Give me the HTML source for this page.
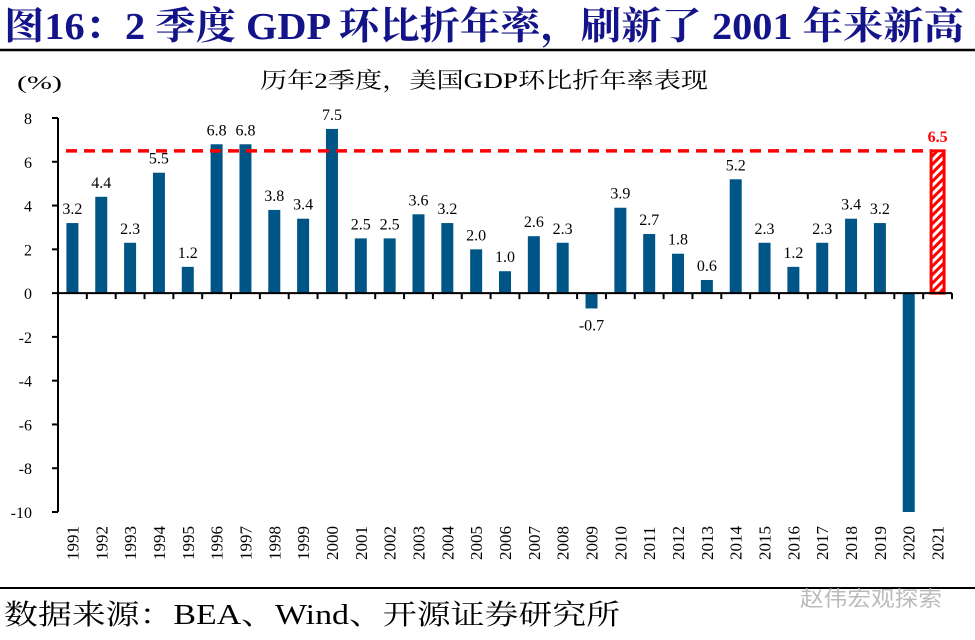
<!DOCTYPE html>
<html><head><meta charset="utf-8"><style>
body{margin:0;background:#fff;width:975px;height:640px;overflow:hidden;font-family:"Liberation Serif","Noto Serif CJK SC",serif;}
</style></head><body>
<svg width="975" height="640" style="position:absolute;left:0;top:0">
<text x="4" y="39" font-size="38" font-weight="bold" fill="#14148a" textLength="960" lengthAdjust="spacingAndGlyphs">图16：2 季度 GDP 环比折年率，刷新了 2001 年来新高</text>
<line x1="0" y1="50" x2="975" y2="50" stroke="#000" stroke-width="2.5"/>
<text x="17" y="89" font-size="19" textLength="45" lengthAdjust="spacingAndGlyphs">(%)</text>
<text x="260" y="88" font-size="22" textLength="448" lengthAdjust="spacingAndGlyphs">历年2季度，美国GDP环比折年率表现</text>
<g id="plot"></g>
<line x1="0" y1="588" x2="975" y2="588" stroke="#000" stroke-width="2"/>
<text x="4" y="624" font-size="28" textLength="616" lengthAdjust="spacingAndGlyphs">数据来源：BEA、Wind、开源证券研究所</text>
<text x="800" y="606" font-size="21" fill="#bbb" textLength="142" lengthAdjust="spacingAndGlyphs" font-family="Liberation Sans,Noto Sans CJK SC,sans-serif">赵伟宏观探索</text>
</svg>
<script>
const years=["1991","1992","1993","1994","1995","1996","1997","1998","1999","2000","2001","2002","2003","2004","2005","2006","2007","2008","2009","2010","2011","2012","2013","2014","2015","2016","2017","2018","2019","2020","2021"];
const values=[3.2,4.4,2.3,5.5,1.2,6.8,6.8,3.8,3.4,7.5,2.5,2.5,3.6,3.2,2.0,1.0,2.6,2.3,-0.7,3.9,2.7,1.8,0.6,5.2,2.3,1.2,2.3,3.4,3.2,-10,6.5];
const labels=["3.2","4.4","2.3","5.5","1.2","6.8","6.8","3.8","3.4","7.5","2.5","2.5","3.6","3.2","2.0","1.0","2.6","2.3","-0.7","3.9","2.7","1.8","0.6","5.2","2.3","1.2","2.3","3.4","3.2","","6.5"];
const yTicks=[8,6,4,2,0,-2,-4,-6,-8,-10];
const NS="http://www.w3.org/2000/svg";
const g=document.getElementById('plot');
const x0=58,x1=952,yMin=-10,yMax=8,yTop=118,yBot=512;
const band=(x1-x0)/years.length;
const y=v=>yTop+(yMax-v)/(yMax-yMin)*(yBot-yTop);
const xc=i=>x0+band*(i+0.5);
function mk(t,a){const e=document.createElementNS(NS,t);for(const k in a)e.setAttribute(k,a[k]);g.appendChild(e);return e;}
const defs=mk('defs',{});
defs.innerHTML='<pattern id="hatch" width="6" height="6" patternUnits="userSpaceOnUse" patternTransform="rotate(-45)"><rect width="6" height="6" fill="#fff"/><rect width="6" height="3" fill="#f00"/></pattern>';
yTicks.forEach(t=>{
 const l=mk('line',{x1:x0-6,x2:x0,y1:y(t),y2:y(t),stroke:'#000','stroke-width':2});
 
 
 const tx=mk('text',{x:x0-26,y:y(t)+6,'font-size':16,'text-anchor':'end'});
 tx.textContent=t;
 
 
});
const ya=mk('line',{x1:x0,x2:x0,y1:yTop,y2:yBot,stroke:'#000','stroke-width':2});


years.forEach((yr,i)=>{
 const v=values[i],last=i===years.length-1;
 const w=last?13:12;
 const r=mk('rect',{x:xc(i)-w/2,y:Math.min(y(v),y(0)),width:w,height:Math.abs(y(v)-y(0)),fill:last?'url(#hatch)':'#005587',stroke:last?'#f00':'none','stroke-width':last?3:0});
 
 
 if(labels[i]){
  const ly=v>=0?y(v)-9:y(v)+22;
  const t=mk('text',{x:xc(i),y:ly,'font-size':16,'text-anchor':'middle',fill:last?'#f00':'#000','font-weight':last?'bold':'normal'});
  t.textContent=labels[i];
  
  
 }
 const xt=mk('text',{'font-size':17,transform:`translate(${xc(i)+6},560) rotate(-90)`});
 xt.textContent=yr;
 
 
});
for(let i=0;i<=years.length;i++){
 const tk=mk('line',{x1:x0+band*i,x2:x0+band*i,y1:y(0),y2:y(0)+6,stroke:'#000','stroke-width':2});
 
 
}
const xa=mk('line',{x1:x0,x2:x1,y1:y(0),y2:y(0),stroke:'#000','stroke-width':2});


const ref=values[values.length-1];
const dl=mk('line',{x1:x0+8,x2:xc(years.length-1)-6,y1:y(ref),y2:y(ref),stroke:'#f00','stroke-width':3.5,'stroke-dasharray':'11,7'});


</script>
</body></html>
